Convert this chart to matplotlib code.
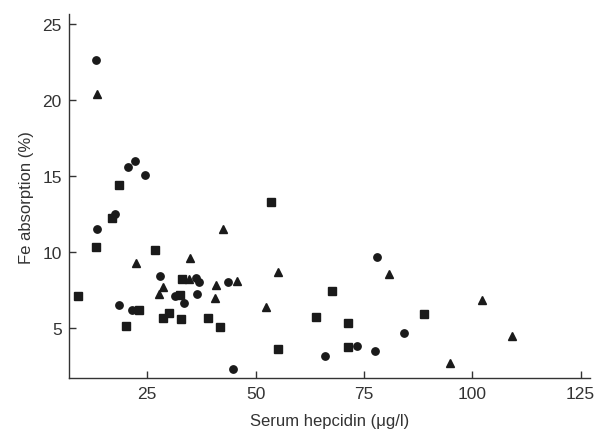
import numpy as np
import matplotlib.pyplot as plt

plt.rcParams['font.family'] = ['Liberation Sans', 'DejaVu Sans']

# circles
circ_x = [13.1, 20.5, 22.3, 24.6, 17.5, 13.5, 28.0, 36.2, 36.9, 43.6, 31.5, 36.5,
          33.4, 18.6, 21.4, 44.9, 77.9, 84.2, 73.5, 77.6, 66.0]
circ_y = [22.6, 15.6, 16.0, 15.05, 12.5, 11.5, 8.42, 8.27, 8.03, 8.03, 7.07, 7.24,
          6.62, 6.51, 6.16, 2.26, 9.63, 4.63, 3.82, 3.49, 3.14]

# squares
sq_x = [18.4, 16.8, 13.3, 26.8, 33.0, 9.1, 32.6, 23.2, 30.1, 28.7, 32.9, 39.0,
        20.2, 41.8, 53.5, 67.7, 64.0, 71.3, 88.8, 55.2, 71.4]
sq_y = [14.4, 12.2, 10.33, 10.13, 8.2, 7.1, 7.15, 6.16, 5.97, 5.64, 5.57, 5.64,
        5.09, 5.03, 13.25, 7.43, 5.68, 5.33, 5.92, 3.58, 3.73]

# triangles
tri_x = [13.4, 42.5, 22.4, 34.8, 34.7, 40.8, 45.8, 28.7, 27.8, 40.7, 55.2, 80.8,
         52.5, 102.2, 109.2, 94.8]
tri_y = [20.4, 11.5, 9.26, 9.57, 8.2, 7.83, 8.05, 7.66, 7.24, 6.93, 8.64, 8.53,
         6.36, 6.84, 4.43, 2.66]

fig = plt.figure(figsize=(5.96, 4.31), dpi=100)
ax = fig.add_axes([0.1153, 0.12, 0.875, 0.845])

ax.plot(circ_x, circ_y, 'o', color='#1a1a1a', markersize=5.3, linestyle='none')
ax.plot(sq_x, sq_y, 's', color='#1a1a1a', markersize=5.5, linestyle='none')
ax.plot(tri_x, tri_y, '^', color='#1a1a1a', markersize=6, linestyle='none')

ax.set_xlim(6.9, 127.2)
ax.set_ylim(1.67, 25.64)
ax.set_xticks([25, 50, 75, 100, 125])
ax.set_yticks([5, 10, 15, 20, 25])

for s in ['top', 'right']:
    ax.spines[s].set_visible(False)
for s in ['left', 'bottom']:
    ax.spines[s].set_color('#333333')
    ax.spines[s].set_linewidth(1.0)

ax.tick_params(direction='in', length=5, width=1, colors='#333333',
               labelsize=12.5, labelcolor='#333333')
ax.tick_params(axis='y', pad=5)
ax.tick_params(axis='x', pad=5.5)
ax.set_xlabel('Serum hepcidin (μg/l)', fontsize=12, color='#333333', labelpad=9)
ax.set_ylabel('Fe absorption (%)', fontsize=12, color='#333333', labelpad=6)

fig.savefig('out.png', dpi=100)
